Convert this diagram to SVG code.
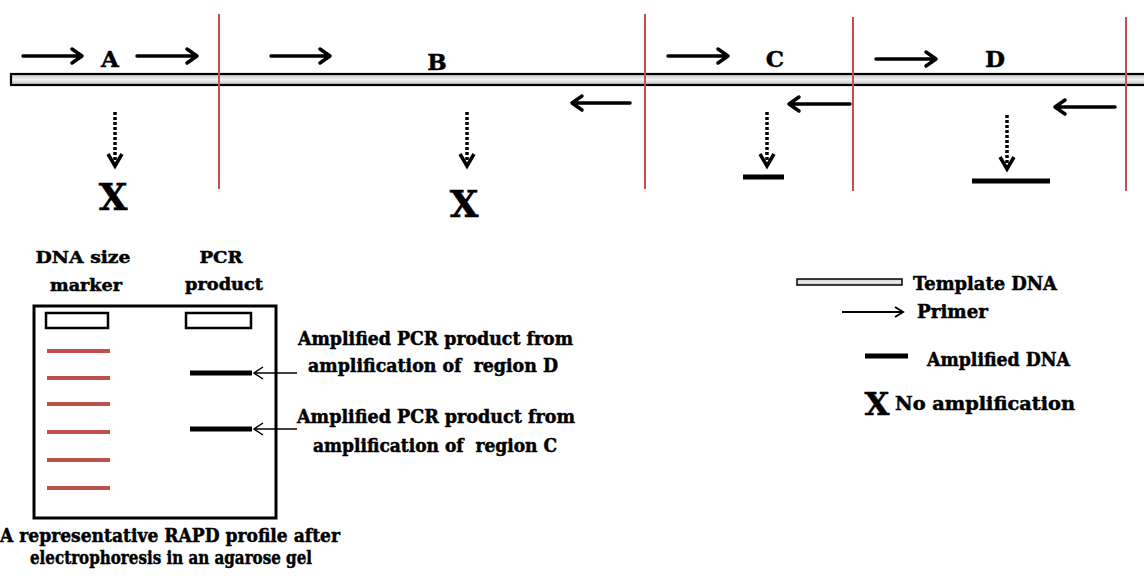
<svg xmlns="http://www.w3.org/2000/svg" width="1144" height="579" viewBox="0 0 1144 579">
<defs>
<linearGradient id="tg" x1="0" y1="0" x2="0" y2="1">
<stop offset="0" stop-color="#c8c8c8"/>
<stop offset="0.5" stop-color="#f0f0f0"/>
<stop offset="1" stop-color="#c0c0c0"/>
</linearGradient>
<style>
text{font-family:"DejaVu Serif","Liberation Serif",serif;font-weight:bold;fill:#000;stroke:#000;stroke-width:0.5}
.red{stroke:#c0504d;stroke-width:2}
.arr{fill:none;stroke:#000;stroke-width:3.5;stroke-linecap:round;stroke-linejoin:round}
.dot{fill:none;stroke:#000;stroke-width:3.5;stroke-dasharray:3 2}
.dh{fill:none;stroke:#000;stroke-width:3.5;stroke-linejoin:miter}
.band{stroke:#c0504d;stroke-width:4}
.bb{stroke:#000;stroke-width:5}
.thin{fill:none;stroke:#000;stroke-width:1.5}
</style>
</defs>
<rect width="1144" height="579" fill="#fff"/>

<g id="template">
<rect x="11" y="74" width="1140" height="11" fill="url(#tg)" stroke="#000" stroke-width="2.2"/>
</g>

<g id="dividers">
<line class="red" x1="219" y1="14" x2="219" y2="189"/>
<line class="red" x1="645" y1="14" x2="645" y2="189"/>
<line class="red" x1="853" y1="17" x2="853" y2="191"/>
<line class="red" x1="1126" y1="17" x2="1126" y2="191"/>
</g>

<g id="labels">
<text x="110" y="67" font-size="23" text-anchor="middle" stroke-width="0.9">A</text>
<text x="437" y="70" font-size="23" text-anchor="middle" stroke-width="0.9">B</text>
<text x="775" y="67" font-size="23" text-anchor="middle" stroke-width="0.9">C</text>
<text x="995" y="67" font-size="23" text-anchor="middle" stroke-width="0.9">D</text>
</g>

<g id="connectors">
<path class="arr" d="M23 56H82M72 49L82 56L72 63"/>
<path class="arr" d="M137 56H197M187 49L197 56L187 63"/>
<path class="arr" d="M271 56H330M320 49L330 56L320 63"/>
<path class="arr" d="M668 56H728M718 49L728 56L718 63"/>
<path class="arr" d="M876 59H936M926 52L936 59L926 66"/>
<path class="arr" d="M630 103H572M582 96L572 103L582 110"/>
<path class="arr" d="M850 104H789M799 97L789 104L799 111"/>
<path class="arr" d="M1115 107H1055M1065 100L1055 107L1065 114"/>
<line class="dot" x1="115" y1="112" x2="115" y2="163"/>
<path class="dh" d="M108 154L115 166L122 154"/>
<line class="dot" x1="467" y1="112" x2="467" y2="163"/>
<path class="dh" d="M460 154L467 166L474 154"/>
<line class="dot" x1="767" y1="112" x2="767" y2="163"/>
<path class="dh" d="M760 154L767 166L774 154"/>
<line class="dot" x1="1007" y1="115" x2="1007" y2="167"/>
<path class="dh" d="M1000 157L1007 169L1014 157"/>
<path class="thin" d="M297 373H254M263 367L254 373L263 379"/>
<path class="thin" d="M297 429H254M263 423L254 429L263 435"/>
</g>

<g id="results">
<text x="113" y="210" font-size="37" text-anchor="middle" stroke-width="1.2">X</text>
<text x="464" y="217" font-size="37" text-anchor="middle" stroke-width="1.2">X</text>
<line class="bb" x1="743" y1="177" x2="784" y2="177" stroke-width="6"/>
<line class="bb" x1="972" y1="181" x2="1050" y2="181" stroke-width="6"/>
</g>

<g id="gel">
<text x="83" y="263" font-size="17" text-anchor="middle" textLength="95" lengthAdjust="spacingAndGlyphs">DNA size</text>
<text x="86" y="291" font-size="17" text-anchor="middle" textLength="72" lengthAdjust="spacingAndGlyphs">marker</text>
<text x="221" y="263" font-size="17" text-anchor="middle" textLength="43" lengthAdjust="spacingAndGlyphs">PCR</text>
<text x="224" y="290" font-size="17" text-anchor="middle" textLength="78" lengthAdjust="spacingAndGlyphs">product</text>
<rect x="34" y="306" width="242" height="212" fill="none" stroke="#000" stroke-width="3"/>
<rect x="46" y="313" width="62" height="15" fill="#fff" stroke="#000" stroke-width="2.5"/>
<rect x="186" y="313" width="65" height="15" fill="#fff" stroke="#000" stroke-width="2.5"/>
<line class="band" x1="47" y1="351" x2="110" y2="351"/>
<line class="band" x1="47" y1="378" x2="110" y2="378"/>
<line class="band" x1="47" y1="404" x2="110" y2="404"/>
<line class="band" x1="47" y1="432" x2="110" y2="432"/>
<line class="band" x1="47" y1="460" x2="110" y2="460"/>
<line class="band" x1="47" y1="488" x2="110" y2="488"/>
<line class="bb" x1="190" y1="373" x2="252" y2="373"/>
<line class="bb" x1="190" y1="429" x2="252" y2="429"/>
<text x="170" y="542" font-size="19" text-anchor="middle" textLength="340" lengthAdjust="spacingAndGlyphs">A representative RAPD profile after</text>
<text x="171" y="564" font-size="19" text-anchor="middle" textLength="282" lengthAdjust="spacingAndGlyphs">electrophoresis in an agarose gel</text>
</g>

<g id="annotations">
<text x="298" y="345" font-size="18" textLength="275" lengthAdjust="spacingAndGlyphs">Amplified PCR product from</text>
<text x="308" y="372" font-size="18" textLength="250" lengthAdjust="spacingAndGlyphs" xml:space="preserve">amplification of  region D</text>
<text x="297" y="423" font-size="18" textLength="278" lengthAdjust="spacingAndGlyphs">Amplified PCR product from</text>
<text x="313" y="452" font-size="18" textLength="244" lengthAdjust="spacingAndGlyphs" xml:space="preserve">amplification of  region C</text>
</g>

<g id="legend">
<rect x="797" y="279" width="105" height="6" fill="url(#tg)" stroke="#000" stroke-width="1.5"/>
<text x="913" y="290" font-size="18" textLength="144" lengthAdjust="spacingAndGlyphs">Template DNA</text>
<path fill="none" stroke="#000" stroke-width="2" d="M842 312H903M895 307L903 312L895 317"/>
<text x="917" y="318" font-size="18" textLength="71" lengthAdjust="spacingAndGlyphs">Primer</text>
<line class="bb" x1="865" y1="356" x2="908" y2="356"/>
<text x="927" y="366" font-size="18" textLength="143" lengthAdjust="spacingAndGlyphs">Amplified DNA</text>
<text x="877" y="415" font-size="32" text-anchor="middle" stroke-width="1">X</text>
<text x="895" y="410" font-size="18" textLength="180" lengthAdjust="spacingAndGlyphs">No amplification</text>
</g>
</svg>
